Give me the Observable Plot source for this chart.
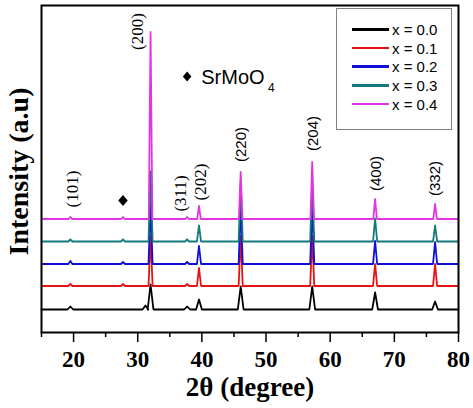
<!DOCTYPE html>
<html><head><meta charset="utf-8">
<script src="https://cdn.jsdelivr.net/npm/d3@7"></script>
<script src="https://cdn.jsdelivr.net/npm/@observablehq/plot@0.6"></script>
<style>
body{margin:0;background:#fff}
#wrap{position:relative;width:473px;height:408px}
#legend{position:absolute;left:336px;top:8px;width:116px;height:122px;border:1px solid #808080;box-sizing:border-box;padding-top:11px;background:#fff}
.row{display:flex;align-items:center;height:18.7px;font:15px "Liberation Sans",Arial,sans-serif;color:#000;white-space:pre}
.sw{width:37px;height:2.5px;margin-left:15px;margin-right:3px}
</style></head><body><div id="wrap"></div>
<script>
const seriesNames = ["x = 0.0","x = 0.1","x = 0.2","x = 0.3","x = 0.4"];
const seriesColors = ["#000000","#e81212","#0f0fd6","#127a7a","#e234e2"];
const offsets = [0, 23.5, 45.5, 68, 90.5];
const peakPos = [19.5, 27.7, 31.2, 32.0, 37.7, 39.55, 46.05, 57.2, 67.0, 76.35];
const h00 = [3, 0, 4, 25, 3, 10, 23, 23, 17, 8];
const h01 = [2, 2, 0, 50, 2, 18, 50, 50, 22, 22];
const h02 = [3, 2, 0, 60, 2, 18, 60, 60, 23, 22];
const h03 = [2, 2, 0, 70, 2, 16, 60, 60, 23, 16];
const h04 = [2, 2, 0, 187, 2, 13, 47, 57, 20, 15];
const peakHalfWidth = [0.45, 0.32, 0.32, 0.32, 0.28];
const xTicks = [20, 30, 40, 50, 60, 70, 80];
const xMinorTicks = [15, 25, 35, 45, 55, 65, 75];
const hklLabels = ["(101)","(200)","(311)","(202)","(220)","(204)","(400)","(332)"];
const hklX = [19.83, 29.95, 36.65, 39.75, 46.15, 57.3, 67.13, 76.37];
const hklY = [120.5, 278, 116, 127.5, 165, 176, 136, 131];
const hklSerif = [true, true, true, true, false, false, false, false];
const phaseMarkX = [27.7, 37.7];
const phaseMarkY = [109, 233];
const phaseMarkR = [4.8, 4.3];
const phaseName = "SrMoO";
const phaseSub = "4";

const heights = [h00, h01, h02, h03, h04];
const rows = [];
heights.forEach((hs, s) => {
  const off = offsets[s], w = peakHalfWidth[s], name = seriesNames[s];
  rows.push({s: name, x: 15, y: off});
  peakPos.forEach((p, i) => {
    if (hs[i] <= 0) return;
    rows.push({s: name, x: p - w, y: off}, {s: name, x: p, y: off + hs[i]}, {s: name, x: p + w, y: off});
  });
  rows.push({s: name, x: 80, y: off});
});

const hkl = hklLabels.map((t, i) => ({t, x: hklX[i], y: hklY[i], serif: hklSerif[i]}));
const marksPhase = phaseMarkX.map((x, i) => ({x, y: phaseMarkY[i], r: phaseMarkR[i]}));

const diamondSym = {
  draw(ctx, size) {
    const a = Math.sqrt(size / Math.PI), h = a * 1.15;
    ctx.moveTo(0, -h); ctx.lineTo(a, 0); ctx.lineTo(0, h); ctx.lineTo(-a, 0); ctx.closePath();
  }
};

const chart = Plot.plot({
  width: 473, height: 408,
  marginLeft: 41, marginRight: 15, marginTop: 5, marginBottom: 76,
  x: {domain: [15, 80], axis: null},
  y: {domain: [-23, 304], axis: null},
  r: {type: "identity"},
  color: {domain: seriesNames, range: seriesColors},
  style: {background: "white", overflow: "visible"},
  marks: [
    Plot.lineY(rows, {x: "x", y: "y", z: "s", stroke: "s", strokeWidth: 1.8}),
    Plot.frame({stroke: "black", strokeWidth: 2}),
    Plot.axisX(xTicks, {tickSize: 10, tickPadding: 8, fontSize: 23, fontWeight: "bold", fontFamily: "Liberation Serif", label: null, strokeWidth: 1.5, fill: "black"}),
    Plot.axisX(xMinorTicks, {tickSize: 5, tickFormat: () => "", label: null, strokeWidth: 1.5}),
    Plot.text(["2θ (degree)"], {frameAnchor: "bottom", dy: 63, lineAnchor: "bottom", textAnchor: "middle", fontSize: 27, fontWeight: "bold", fontFamily: "Liberation Serif", fill: "black"}),
    Plot.text(["Intensity (a.u)"], {frameAnchor: "left", dx: -22, dy: 2.5, rotate: -90, textAnchor: "middle", lineAnchor: "middle", fontSize: 28, fontWeight: "bold", fontFamily: "Liberation Serif", fill: "black"}),
    Plot.text(hkl.filter(d => d.serif), {x: "x", y: "y", text: "t", rotate: -90, fontSize: 17, fontFamily: "Liberation Serif", fill: "black"}),
    Plot.text(hkl.filter(d => !d.serif), {x: "x", y: "y", text: "t", rotate: -90, fontSize: 15, fontFamily: "Liberation Sans", fill: "black"}),
    Plot.dot(marksPhase, {x: "x", y: "y", r: "r", symbol: diamondSym, fill: "black", stroke: null}),
    Plot.text([phaseName], {x: 39.9, y: 226, lineAnchor: "bottom", textAnchor: "start", fontSize: 20, fontFamily: "Liberation Sans", fill: "black"}),
    Plot.text([phaseSub], {x: 50.3, y: 217.3, lineAnchor: "bottom", textAnchor: "start", fontSize: 12, fontFamily: "Liberation Sans", fill: "black"})
  ]
});
chart.setAttribute("style", "background:white;overflow:visible");
const wrap = document.getElementById("wrap");
wrap.appendChild(chart);

const legend = document.createElement("div");
legend.id = "legend";
seriesNames.forEach((n, i) => {
  const row = document.createElement("div");
  row.className = "row";
  const sw = document.createElement("span");
  sw.className = "sw";
  sw.style.background = seriesColors[i];
  const lab = document.createElement("span");
  lab.textContent = n;
  row.appendChild(sw); row.appendChild(lab);
  legend.appendChild(row);
});
wrap.appendChild(legend);
</script></body></html>
